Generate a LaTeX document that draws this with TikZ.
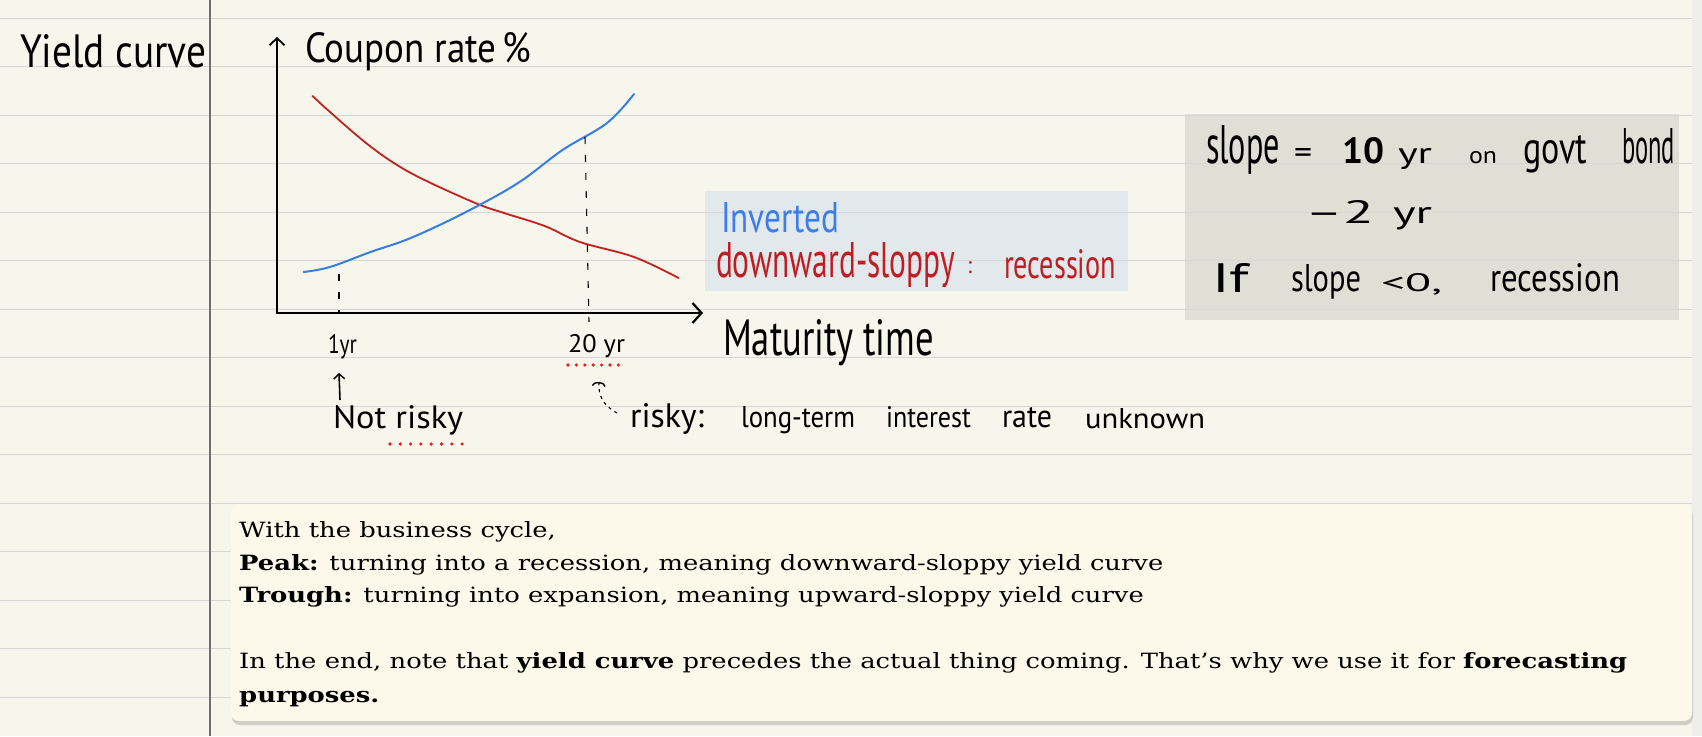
\documentclass[tikz,border=0pt]{standalone}
\usepackage{fontspec}
\usepackage{graphicx}
\setmainfont{DejaVu Serif}[FakeStretch=1.23]
\newfontfamily\handfont{PT Sans}
\usetikzlibrary{arrows.meta}
\definecolor{paper}{RGB}{246,246,236}
\definecolor{ruleclr}{RGB}{214,214,212}
\definecolor{marginclr}{RGB}{110,110,110}
\definecolor{curvered}{RGB}{196,32,32}
\definecolor{curveblue}{RGB}{55,125,230}
\definecolor{inkred}{RGB}{190,30,35}
\definecolor{inkblue}{RGB}{60,125,235}
\definecolor{dotred}{RGB}{230,30,30}
\definecolor{blueboxclr}{RGB}{225,233,236}
\definecolor{greyboxclr}{RGB}{223,223,214}
\definecolor{noteboxclr}{RGB}{252,249,234}
\definecolor{shadowclr}{RGB}{206,206,198}
\definecolor{edgeclr}{RGB}{238,238,234}
\tikzset{
  hw/.style={anchor=base west, inner sep=0pt, outer sep=0pt},
  bodytext/.style={anchor=base west, inner sep=0pt, font=\fontsize{21}{33}\selectfont},
  ruleline/.style={draw=ruleclr, line width=1.4pt},
  axisline/.style={line width=2.4pt, line cap=round},
  guide/.style={line width=1.1pt, dash pattern=on 7pt off 11pt},
  smallguide/.style={line width=1.1pt, dash pattern=on 3pt off 4pt},
  reddots/.style={draw=dotred, line width=3.6pt, line cap=round},
}
\newcommand\hw[6][black]{\node[hw,text=#1] (#2) at (#3) {\resizebox{#4pt}{#5pt}{\handfont #6}};}
\begin{document}
\begin{tikzpicture}[x=1pt,y=-1pt]
\useasboundingbox (0,0) rectangle (1702,736);
\fill[paper] (0,0) rectangle (1702,736);
\fill[edgeclr] (1692,0) rectangle (1702,736);
% highlight boxes
\fill[blueboxclr] (705,191) rectangle (1128,291);
\fill[greyboxclr] (1185,114) rectangle (1679,320);
% ruled lines
\foreach \k in {0,...,14} \draw[ruleline] ({0},{18.2+48.5*\k}) -- ({1692},{18.2+48.5*\k});
\draw[marginclr, line width=1.2pt] (210,0) -- (210,736);
% axes
\coordinate (origin) at (277,313);
\coordinate (ytip) at (277,37);
\coordinate (xtip) at (703,313);
\draw[axisline, -{Straight Barb[length=7pt,width=15pt,line width=1.8pt]}] (origin) -- (ytip);
\draw[axisline, -{Straight Barb[length=9pt,width=20pt,line width=2.2pt]}] (origin) -- (xtip);
% curves
\draw[curvered, line width=1.8pt, line cap=round] plot[smooth, tension=0.6] coordinates {(312.5,96) (330,112) (366,143) (397,165) (428.6,182) (477.7,204) (504,213) (544.6,226) (580,242) (634,257) (678.6,278)};
\draw[curveblue, line width=2pt, line cap=round] plot[smooth, tension=0.6] coordinates {(303.6,272) (330,267) (370.5,252) (410.7,238) (464,213) (518,183) (562.5,150) (607,123) (634,94)};
% guides
\coordinate (g1a) at (339,274);
\coordinate (g1b) at (339,314);
\coordinate (g2a) at (585,137);
\coordinate (g2b) at (589,322);
\draw[guide] (g1a) -- (g1b);
\draw[guide] (g2a) -- (g2b);
% handwritten labels
\hw{yield}{20,67}{186}{33}{Yield curve}
\hw{coupon}{305,62}{226}{30}{Coupon rate\,\%}
\hw{oneyr}{328,353}{29}{19}{1yr}
\hw{twentyyr}{568,352}{57}{18}{20 yr}
\hw{notrisky}{333,428}{130}{23}{Not risky}
\hw{maturity}{723,355}{211}{36}{Maturity time}
\hw[inkblue]{inverted}{721,232}{118}{30}{Inverted}
\hw[inkred]{downward}{716,277}{239}{35}{downward-sloppy}
\hw[inkred]{colon}{967,273}{5}{12}{:}
\hw[inkred]{recession}{1004,278}{112}{29}{recession}
\hw{riskyw}{630,427}{74}{24}{risky:}
\hw{longterm}{741,427}{114}{21}{long-term}
\hw{interest}{886,427}{85}{21}{interest}
\hw{rate}{1002,427}{50}{20}{rate}
\hw{unknown}{1085,428}{120}{20}{unknown}
% grey box text
\hw{slopew}{1206,163}{74}{38}{slope}
\hw{eq}{1294,163}{18}{15}{=}
\node[hw] (ten) at (1342,163) {\resizebox{42pt}{26pt}{\handfont\bfseries 10}};
\hw{yra}{1398,163}{34}{15}{yr}
\hw{on}{1469,163}{28}{12}{on}
\hw{govt}{1523,163}{64}{28}{govt}
\hw{bond}{1622,163}{53}{35}{bond}
\hw{two}{1305,223}{69}{23}{–2}
\hw{yrb}{1393,223}{39}{16}{yr}
\hw{ifw}{1212,292}{37}{29}{If}
\hw{slopeb}{1291,291}{70}{27}{slope}
\hw{lt}{1381,291}{61}{18}{<0,}
\hw{recb}{1490,291}{130}{28}{recession}
% red dotted underlines
\draw[reddots, dash pattern=on 0pt off 8.4pt] (568,365) -- (619,365);
\draw[reddots, dash pattern=on 0pt off 10.3pt] (390,444) -- (463,444);
% small arrows
\coordinate (upa) at (340,400);
\coordinate (upb) at (339,373);
\draw[line width=1.6pt, -{Straight Barb[length=5pt,width=11pt,line width=1.4pt]}] (upa) -- (upb);
\coordinate (rka) at (617,413);
\coordinate (rkb) at (599,382);
\draw[smallguide, -{Arc Barb[length=4pt,width=14pt,line width=1.4pt]}] (rka) .. controls (604,406) and (598,396) .. (rkb);
% note box
\fill[shadowclr, rounded corners=8pt] (232,507) rectangle (1693,725);
\fill[noteboxclr, rounded corners=8pt] (231,504) rectangle (1692,721);
\node[bodytext] (l1) at (239,537) {With the business cycle,};
\node[bodytext] (l2) at (239,570) {\textbf{Peak:} turning into a recession, meaning downward-sloppy yield curve};
\node[bodytext] (l3) at (239,602) {\textbf{Trough:} turning into expansion, meaning upward-sloppy yield curve};
\node[bodytext] (l4) at (239,668) {In the end, note that \textbf{yield curve} precedes the actual thing coming. That’s why we use it for \textbf{forecasting}};
\node[bodytext] (l5) at (239,702) {\textbf{purposes.}};
\end{tikzpicture}
\end{document}
